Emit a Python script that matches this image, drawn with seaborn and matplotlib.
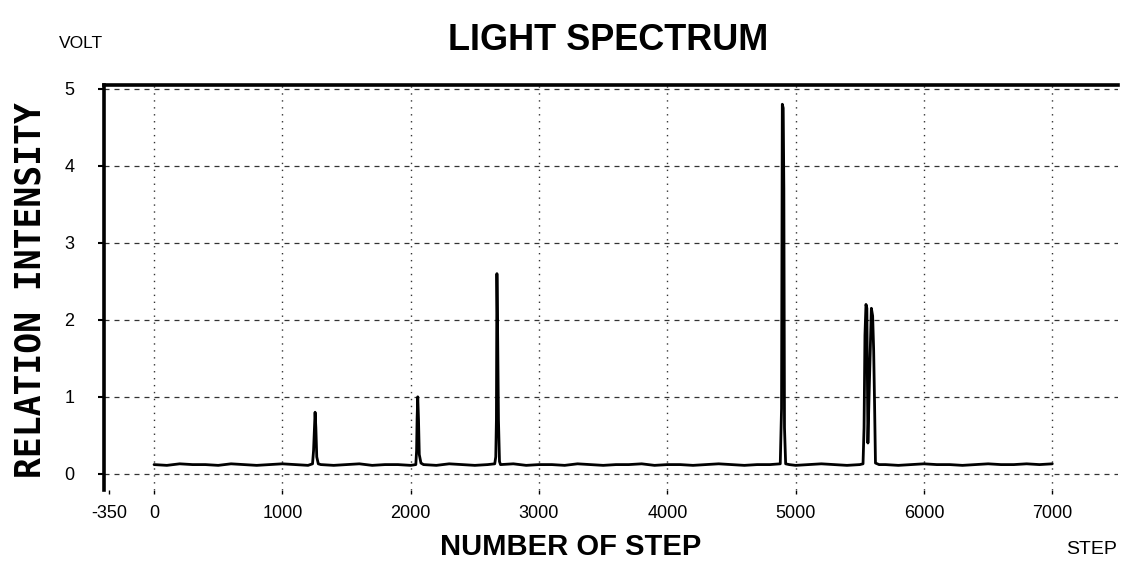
import matplotlib
matplotlib.use('Agg')
import matplotlib.pyplot as plt
import seaborn as sns
import pandas as pd

# ---- data ----
step = [0, 100, 200, 300, 400, 500, 600, 700, 800, 900, 1000, 1100, 1200,
        1235, 1243, 1249, 1255, 1261, 1268, 1280,
        1300, 1400, 1500, 1600, 1700, 1800, 1900, 2000,
        2040, 2046, 2050, 2055, 2061, 2067, 2080,
        2100, 2200, 2300, 2400, 2500, 2600,
        2655, 2663, 2668, 2672, 2678, 2684, 2692,
        2700, 2800, 2900, 3000, 3100, 3200, 3300, 3400, 3500, 3600, 3700, 3800,
        3900, 4000, 4100, 4200, 4300, 4400, 4500, 4600, 4700, 4800,
        4880, 4890, 4896, 4903, 4908, 4913, 4922,
        4950, 5000, 5100, 5200, 5300, 5400, 5500,
        5525, 5533, 5540, 5548, 5555, 5563, 5575, 5590, 5600, 5608, 5615, 5622,
        5650, 5700, 5800, 5900, 6000, 6100, 6200, 6300, 6400, 6500, 6600, 6700,
        6800, 6900, 7000]
volt = [0.12, 0.11, 0.13, 0.12, 0.12, 0.11, 0.13, 0.12, 0.11, 0.12, 0.13, 0.12, 0.11,
        0.13, 0.30, 0.55, 0.80, 0.60, 0.22, 0.13,
        0.12, 0.11, 0.12, 0.13, 0.11, 0.12, 0.12, 0.11,
        0.12, 0.30, 0.72, 1.00, 0.70, 0.25, 0.14,
        0.12, 0.11, 0.13, 0.12, 0.11, 0.12,
        0.13, 0.22, 0.70, 2.60, 1.75, 0.70, 0.16,
        0.12, 0.13, 0.11, 0.12, 0.12, 0.11, 0.13, 0.12, 0.11, 0.12, 0.12, 0.13,
        0.11, 0.12, 0.12, 0.11, 0.12, 0.13, 0.12, 0.11, 0.12, 0.12,
        0.13, 0.85, 4.80, 4.75, 3.70, 0.60, 0.13,
        0.12, 0.11, 0.12, 0.13, 0.12, 0.11, 0.12,
        0.13, 0.60, 1.80, 2.20, 2.15, 0.40, 1.20, 2.15, 2.05, 1.60, 0.90, 0.14,
        0.12, 0.12, 0.11, 0.12, 0.13, 0.12, 0.12, 0.11, 0.12, 0.13, 0.12, 0.12,
        0.13, 0.12, 0.13]
x_ticks = [-350, 0, 1000, 2000, 3000, 4000, 5000, 6000, 7000]
x_tick_labels = ['-350', '0', '1000', '2000', '3000', '4000', '5000', '6000', '7000']
y_ticks = [0, 1, 2, 3, 4, 5]
y_tick_labels = ['0', '1', '2', '3', '4', '5']

sns.set_style('white')
plt.rcParams['font.family'] = ['Liberation Sans', 'DejaVu Sans']
plt.rcParams['text.color'] = 'black'
plt.rcParams['axes.labelcolor'] = 'black'
plt.rcParams['xtick.color'] = 'black'
plt.rcParams['ytick.color'] = 'black'

W, H = 1122, 567
fig = plt.figure(figsize=(W / 100, H / 100), dpi=100)
ax = fig.add_axes([104 / W, 1 - 490 / H, (1118 - 104) / W, (490 - 85) / H])

df = pd.DataFrame({'step': step, 'volt': volt})
sns.lineplot(data=df, x='step', y='volt', ax=ax, color='black',
             linewidth=2.0, estimator=None, sort=False)

ax.set_xlim(-390, 7512)
ax.set_ylim(-0.21, 5.05)
ax.set_xticks(x_ticks)
ax.set_xticklabels(x_tick_labels)
ax.set_yticks(y_ticks)
ax.set_yticklabels(y_tick_labels)
ax.set_xlabel('')
ax.set_ylabel('')

ax.tick_params(axis='x', bottom=True, direction='out', length=3, width=1,
               pad=8, labelsize=13, colors='black')
ax.tick_params(axis='y', left=True, direction='out', length=4.5, width=1.5,
               pad=17, labelsize=13, colors='black')

ax.grid(True, axis='y', linestyle=(0, (4, 4)), color='#333333', linewidth=0.9)
ax.grid(True, axis='x', linestyle=(0, (1, 4)), color='#333333', linewidth=1.0)
ax.get_xgridlines()[0].set_visible(False)

for s in ['bottom', 'right']:
    ax.spines[s].set_visible(False)
for s in ['top', 'left']:
    ax.spines[s].set_visible(True)
    ax.spines[s].set_color('black')
    ax.spines[s].set_linewidth(2.6)

fig.text(81 / W, 1 - 43 / H, 'VOLT', fontsize=12.5, ha='center', va='center',
         color='black')
fig.text(608 / W, 1 - 41 / H, 'LIGHT SPECTRUM', fontsize=26, fontweight='bold',
         ha='center', va='center', color='black')
fig.text(571 / W, 1 - 547 / H, 'NUMBER OF STEP', fontsize=21, fontweight='bold',
         ha='center', va='center', color='black')
fig.text(1117 / W, 1 - 549 / H, 'STEP', fontsize=14, ha='right', va='center',
         color='black')
fig.text(31 / W, 1 - 290 / H, 'RELATION INTENSITY', fontsize=25, fontweight='bold',
         family=['DejaVu Sans Mono'], rotation=90, ha='center', va='center',
         color='black')

fig.savefig('out.png', dpi=100)
